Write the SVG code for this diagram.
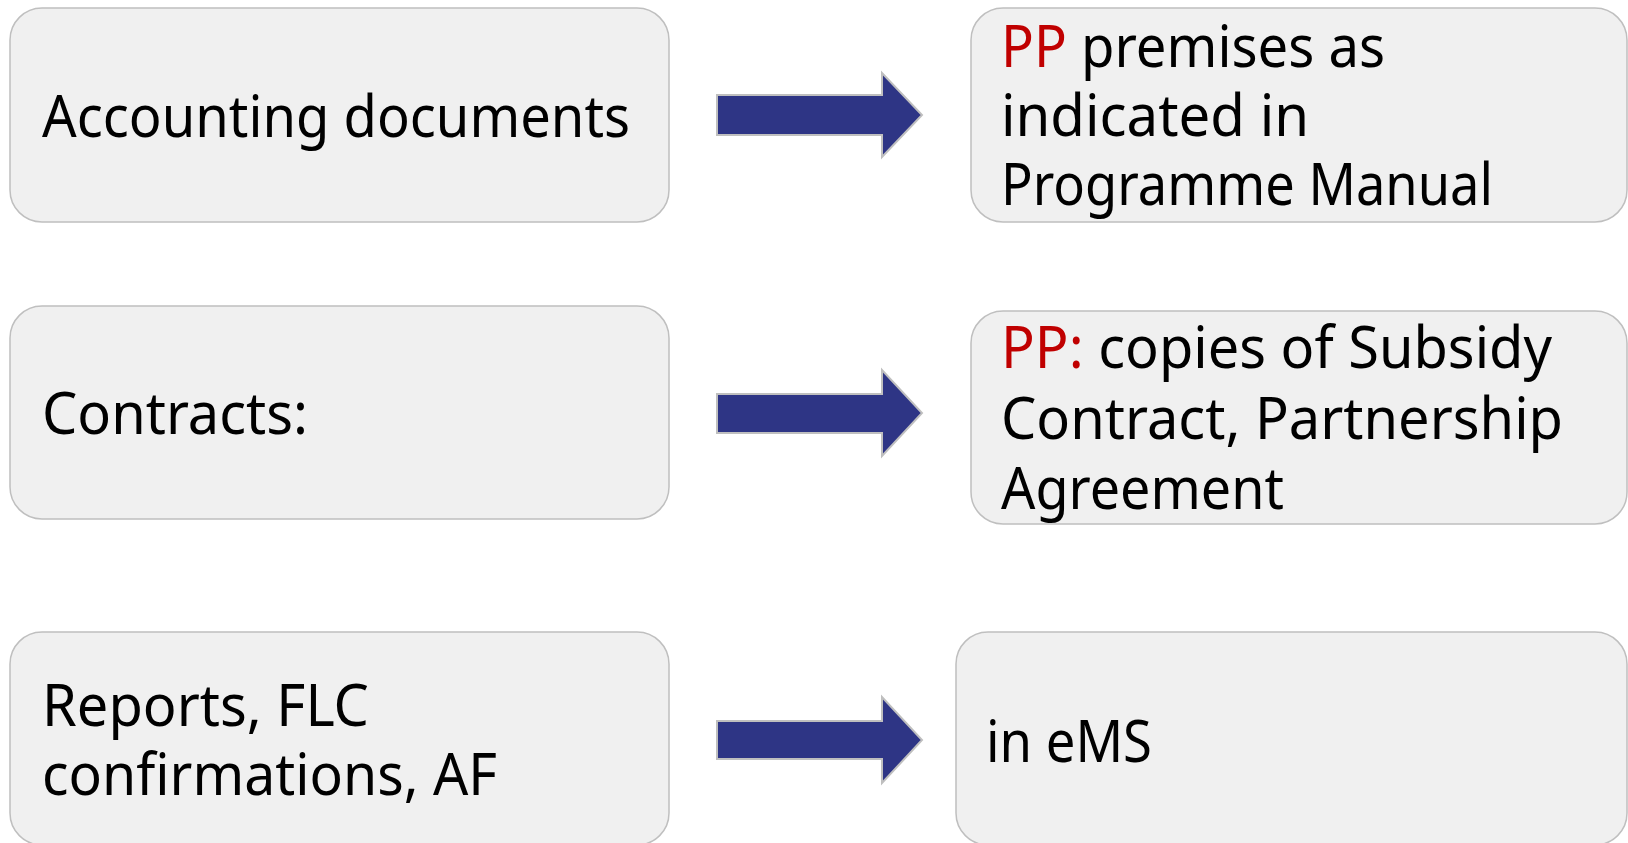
<svg xmlns="http://www.w3.org/2000/svg" width="1628" height="843" viewBox="0 0 1628 843">
<style>
.box{fill:#F0F0F0;stroke:#BFBFBF;stroke-width:1.5}
.arrow{fill:#2E3585;stroke:#BFBFBF;stroke-width:2}
.t{font-family:"Noto Sans","Liberation Sans",sans-serif;font-size:58px;fill:#000}
.red{fill:#C00000}
</style>
<rect width="1628" height="843" fill="#FFFFFF"/>
<g id="connectors">
<polygon class="arrow" points="717,95 882,95 882,73 922,115 882,157 882,135 717,135"/>
<polygon class="arrow" points="717,394 882,394 882,370 922,413 882,456 882,433 717,433"/>
<polygon class="arrow" points="717,721 882,721 882,697 922,740 882,783 882,759 717,759"/>
</g>
<g id="node-accounting">
<rect class="box" x="10" y="8" width="659" height="214" rx="32"/>
<text class="t" x="42" y="137" textLength="588" lengthAdjust="spacingAndGlyphs">Accounting documents</text>
</g>
<g id="node-premises">
<rect class="box" x="971" y="8" width="656" height="214" rx="32"/>
<text class="t" x="1001" y="67" textLength="384" lengthAdjust="spacingAndGlyphs"><tspan class="red">PP</tspan> premises as</text>
<text class="t" x="1001" y="136" textLength="308" lengthAdjust="spacingAndGlyphs">indicated in</text>
<text class="t" x="1001" y="205" textLength="492" lengthAdjust="spacingAndGlyphs">Programme Manual</text>
</g>
<g id="node-contracts">
<rect class="box" x="10" y="306" width="659" height="213" rx="32"/>
<text class="t" x="42" y="434" textLength="266" lengthAdjust="spacingAndGlyphs">Contracts:</text>
</g>
<g id="node-copies">
<rect class="box" x="971" y="311" width="656" height="213" rx="32"/>
<text class="t" x="1001" y="368" textLength="551" lengthAdjust="spacingAndGlyphs"><tspan class="red">PP:</tspan> copies of Subsidy</text>
<text class="t" x="1001" y="439" textLength="562" lengthAdjust="spacingAndGlyphs">Contract, Partnership</text>
<text class="t" x="1001" y="509" textLength="283" lengthAdjust="spacingAndGlyphs">Agreement</text>
</g>
<g id="node-reports">
<rect class="box" x="10" y="632" width="659" height="213" rx="32"/>
<text class="t" x="42" y="726" textLength="327" lengthAdjust="spacingAndGlyphs">Reports, FLC</text>
<text class="t" x="42" y="795" textLength="455" lengthAdjust="spacingAndGlyphs">confirmations, AF</text>
</g>
<g id="node-ems">
<rect class="box" x="956" y="632" width="671" height="213" rx="32"/>
<text class="t" x="986" y="762" textLength="166" lengthAdjust="spacingAndGlyphs">in eMS</text>
</g>
</svg>
